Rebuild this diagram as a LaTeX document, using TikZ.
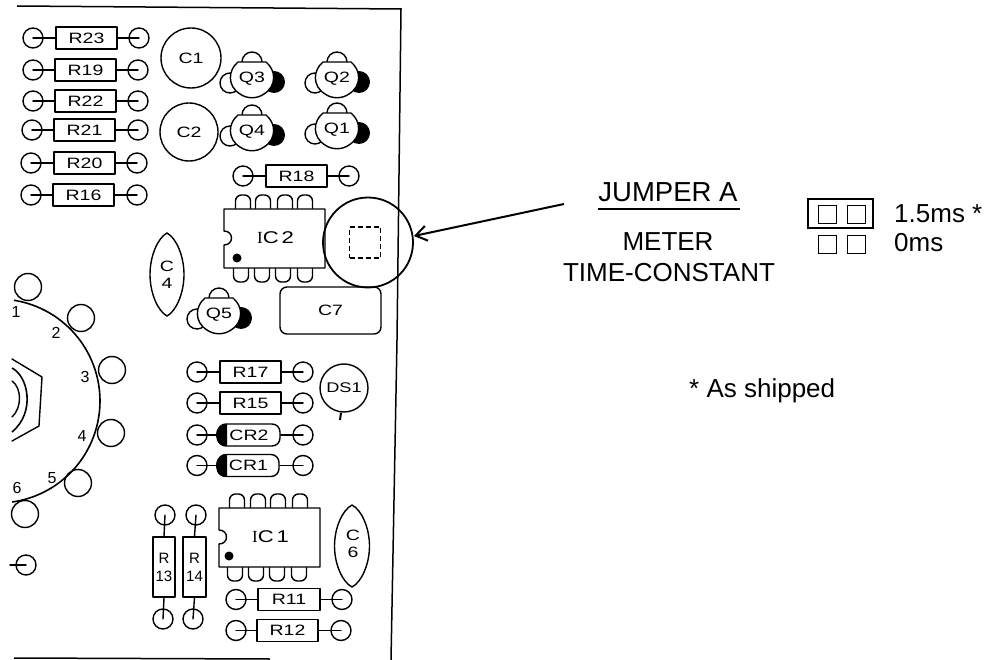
\documentclass[tikz,border=0pt]{standalone}
\usepackage{fontspec}
\setmainfont{Liberation Sans}
\newfontfamily\handf[FakeStretch=1.3]{Liberation Sans}
\newfontfamily\handi{Liberation Serif}
\usetikzlibrary{arrows.meta}
\tikzset{
  ink/.style={line width=1.4pt,line join=round,line cap=round},
  pad/.style={draw,circle,inner sep=0pt,minimum size=20pt,ink},
  bigpad/.style={draw,circle,inner sep=0pt,minimum size=27pt,ink},
  partbox/.style={draw,ink,inner sep=0pt,font=\handf\fontsize{15}{15}\selectfont},
  handtext/.style={inner sep=0pt,font=\handf\fontsize{15}{17}\selectfont,align=center},
  numtext/.style={inner sep=0pt,font=\fontsize{16}{16}\selectfont},
  caption/.style={inner sep=0pt,font=\fontsize{26}{28}\selectfont,anchor=base},
  caprt/.style={inner sep=0pt,font=\fontsize{26}{28}\selectfont,anchor=base west},
  square/.style={draw,line width=0.8pt,inner sep=0pt,minimum size=18pt}
}
% horizontal part: left pad x, right pad x, y, box left, box right, name
\newcommand{\hpart}[7][]{%
  \node[pad] (#7l) at (#2,#4) {};
  \node[pad] (#7r) at (#3,#4) {};
  \node[partbox,minimum height=22pt,minimum width={(#6-#5)*1pt},#1] (#7) at ({(#5+#6)/2},#4) {#7};
  \draw[ink] (#7l.center) -- (#7.west);
  \draw[ink] (#7r.center) -- (#7.east);
}
% vertical resistor: x top pad, x bottom pad, box left, box right, number
\newcommand{\vres}[5]{%
  \node[pad] (R#5t) at (#1,515) {};
  \node[pad] (R#5b) at (#2,619) {};
  \node[partbox,align=center,minimum height=60pt,minimum width={(#4-#3)*1pt},font=\fontsize{15}{18}\selectfont] (R#5) at ({(#3+#4)/2},567) {R\\#5};
  \draw[ink] (R#5t.center) -- (R#5.north);
  \draw[ink] (R#5b.center) -- (R#5.south);
}
% transistor
\newcommand{\qtr}[3]{%
  \fill (#1+22,#2+5) circle (11);
  \draw[ink,fill=white] (#1-22,#2+6) circle (10);
  \draw[ink,fill=white] (#1,#2-15) circle (10);
  \draw[ink,fill=white] (#1-14,#2-15) -- (#1+14,#2-15)
    .. controls (#1+24,#2-7) and (#1+25,#2+9) .. (#1+12,#2+17)
    .. controls (#1+5,#2+22) and (#1-5,#2+22) .. (#1-12,#2+17)
    .. controls (#1-25,#2+9) and (#1-24,#2-7) .. (#1-14,#2-15) -- cycle;
  \node[handtext] (#3) at (#1,#2+2) {#3};
}
% IC: left right top bottom notch-y dot-x dot-y name-number
\newcommand{\icbody}[8]{%
  \draw[ink,fill=white] (#1,#3) -- (#2,#3) -- (#2,#4) -- (#1,#4) -- (#1,#5+7)
    .. controls (#1+10,#5+7) and (#1+10,#5-7) .. (#1,#5-7) -- cycle;
  \fill (#6,#7) circle (4.5);
  \node[handtext,font=\handf\fontsize{17}{17}\selectfont] (IC#8) at ({(#1+#2)/2+1},{#3+29}) {{\handi I}C\,#8};
}
\newcommand{\pintop}[2]{\draw[ink,rounded corners=6pt] (#1-7.5,#2) -- (#1-7.5,#2-14) -- (#1+7.5,#2-14) -- (#1+7.5,#2);}
\newcommand{\pinbot}[2]{\draw[ink,rounded corners=6pt] (#1-7.5,#2) -- (#1-7.5,#2+14) -- (#1+7.5,#2+14) -- (#1+7.5,#2);}
% lens capacitor: centre x, half width, top, bottom
\newcommand{\lens}[4]{%
  \draw[ink] (#1,#3)
     .. controls (#1+#2*0.55,{#3+(#4-#3)*0.06}) and (#1+#2,{#3+(#4-#3)*0.28}) .. (#1+#2,{(#3+#4)/2})
     .. controls (#1+#2,{#3+(#4-#3)*0.72}) and (#1+#2*0.55,{#3+(#4-#3)*0.94}) .. (#1,#4)
     .. controls (#1-#2*0.55,{#3+(#4-#3)*0.94}) and (#1-#2,{#3+(#4-#3)*0.72}) .. (#1-#2,{(#3+#4)/2})
     .. controls (#1-#2,{#3+(#4-#3)*0.28}) and (#1-#2*0.55,{#3+(#4-#3)*0.06}) .. (#1,#3) -- cycle;
}
\begin{document}
\begin{tikzpicture}[x=1pt,y=-1pt]
\useasboundingbox (0,0) rectangle (985,660);
% board outline
\draw[line width=1.5pt] (17,6) -- (401,9) -- (397,340) -- (391,660);
\draw[line width=1.5pt] (14,658) -- (270,659);
% resistors, top left
\hpart{33}{139}{38}{56}{117}{R23}
\hpart{33}{138}{70}{55}{116}{R19}
\hpart{33}{138}{101}{55}{116}{R22}
\hpart{32}{138}{130}{54}{115}{R21}
\hpart{31}{137}{163}{54}{115}{R20}
\hpart{31}{137}{195}{53}{114}{R16}
\hpart{243}{349}{176}{266}{327}{R18}
% capacitors
\node[draw,circle,ink,inner sep=0pt,minimum size=60pt,font=\handf\fontsize{15}{15}\selectfont] (C1) at (191,58) {C1};
\node[draw,circle,ink,inner sep=0pt,minimum size=58pt,font=\handf\fontsize{15}{15}\selectfont] (C2) at (189,132) {C2};
% transistors
\qtr{252}{77}{Q3}
\qtr{337}{77}{Q2}
\qtr{252}{130}{Q4}
\qtr{337}{128}{Q1}
\qtr{219}{313}{Q5}
% IC2
\pintop{243}{209}\pintop{263}{209}\pintop{285}{209}\pintop{305}{209}
\pinbot{241}{268}\pinbot{262}{268}\pinbot{283}{268}\pinbot{305}{268}
\icbody{224}{325}{209}{268}{238}{237}{258}{2}
% magnified jumper
\node[draw,circle,line width=1.8pt,inner sep=0pt,minimum size=90pt] (mag) at (368,242.5) {};
\node[draw,line width=1.2pt,dash pattern=on 5pt off 3pt,inner sep=0pt,minimum size=31pt] (jmp) at (365,242.5) {};
% C4, C7, C6
\lens{167}{17}{233}{316}
\node[handtext] (C4) at (167,275) {C\\4};
\node[draw,ink,rounded corners=7pt,minimum width=101pt,minimum height=47pt,inner sep=0pt,font=\handf\fontsize{15}{15}\selectfont] (C7) at (330.5,310.5) {C7};
\lens{352}{17.5}{505}{587}
\node[handtext] (C6) at (353,544) {C\\6};
% rotary switch
\draw[line width=1.6pt] plot[smooth,domain=-82:81,samples=40] ({-2+102*cos(\x)},{401-102*sin(\x)});
\node[bigpad] (s1) at (28,287) {};
\node[bigpad] (s2) at (81,318) {};
\node[bigpad] (s3) at (112,370) {};
\node[bigpad] (s4) at (111,433) {};
\node[bigpad] (s5) at (78,483) {};
\node[bigpad] (s6) at (25,514) {};
\node[numtext] (n1) at (16,312) {1};
\node[numtext] (n2) at (56,333) {2};
\node[numtext] (n3) at (85,377) {3};
\node[numtext] (n4) at (82,436) {4};
\node[numtext] (n5) at (52,478) {5};
\node[numtext] (n6) at (17,488) {6};
\draw[ink] (12,359) -- (42,377) -- (39,426) -- (12,441);
\draw[line width=1.6pt] (12,368) .. controls (28,376) and (36,412) .. (12,432);
\draw[ink] (12,381) .. controls (22,388) and (22,408) .. (12,417);
\node[pad] (p7) at (26,565) {};
\coordinate (p7e) at (10,565);
\draw[ink] (p7.center) -- (p7e);
% lower parts
\hpart{197}{303}{372}{220}{281}{R17}
\hpart{197}{303}{403}{220}{281}{R15}
\hpart[rounded corners=8pt]{197}{303}{435}{218}{280}{CR2}
\hpart[rounded corners=8pt]{197}{303}{465.5}{218}{279}{CR1}
\fill (227,424) .. controls (218,424) and (214,432) .. (217,440) .. controls (218,444) and (222,446) .. (227,446) -- cycle;
\fill (227,454.5) .. controls (218,454.5) and (214,462) .. (217,471) .. controls (218,475) and (222,477) .. (227,477) -- cycle;
\node[draw,circle,ink,inner sep=0pt,minimum size=48pt,font=\handf\fontsize{14}{14}\selectfont] (DS1) at (344,388) {DS1};
\coordinate (dstip) at (340,420);
\draw[line width=2pt] (DS1.south) ++(-3,0) -- (dstip);
% IC1
\pintop{237}{508}\pintop{258}{508}\pintop{278}{508}\pintop{300}{508}
\pinbot{235}{567}\pinbot{256}{567}\pinbot{277}{567}\pinbot{299}{567}
\icbody{219}{320}{508}{567}{537}{229}{556}{1}
% vertical resistors
\vres{165}{163}{153}{175}{13}
\vres{196}{193}{183}{206}{14}
\hpart{236}{342}{599.5}{258}{320}{R11}
\hpart{236}{341}{630.5}{257}{318}{R12}
% callout
\node[caption,font=\fontsize{27.5}{28}\selectfont] (ja) at (668,202) {JUMPER A};
\coordinate (ul) at (598,209);
\coordinate (ur) at (740,209);
\draw[line width=1.3pt] (ul) -- (ur);
\node[caption] (met) at (668,251) {METER};
\node[caption] (tc) at (669,282) {TIME-CONSTANT};
\coordinate (arstart) at (564,204);
\draw[line width=2pt,-{Straight Barb[length=11pt,width=15pt,line width=2pt]}] (arstart) -- (mag.east |- 0,236);
% jumper key
\node[draw,line width=1.5pt,minimum width=65pt,minimum height=29pt,inner sep=0pt] (jk) at (840.5,213.5) {};
\node[square] (sq1) at (827,214) {};
\node[square] (sq2) at (856,214) {};
\node[square] (sq3) at (827.5,244) {};
\node[square] (sq4) at (856.5,244) {};
\node[caprt] (t15) at (894,223) {1.5ms *};
\node[caprt] (t0) at (894,252) {0ms};
\node[caprt] (ship) at (689,397) {* As shipped};
\end{tikzpicture}
\end{document}
